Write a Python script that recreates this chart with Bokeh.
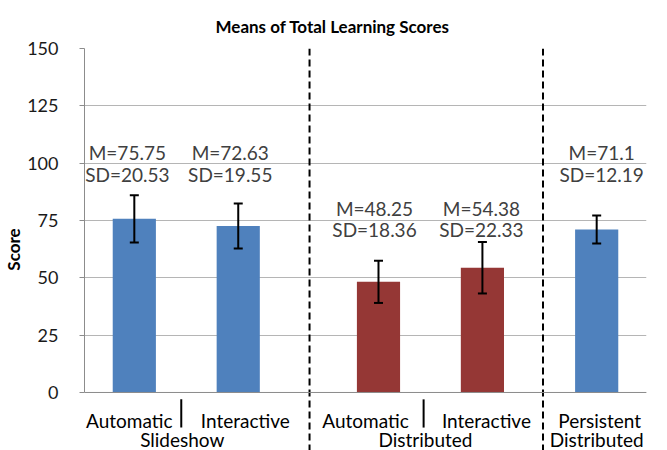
from bokeh.plotting import figure
from bokeh.models import (FactorRange, ColumnDataSource, FixedTicker, Whisker, TeeHead,
                          Range1d, Span, Label)
from bokeh.core.properties import value
from bokeh.embed import file_html
from bokeh.resources import INLINE

# ---------------- data ----------------
title_text = "Means of Total Learning Scores"
y_label = "Score"
top_groups = ["Standard", "Standard", "Standard", "Standard", "Persistent"]
groups = ["Slideshow", "Slideshow", "Distributed", "Distributed", "Distributed"]
conditions = ["Automatic", "Interactive", "Automatic", "Interactive", "Persistent"]
means = [75.75, 72.63, 48.25, 54.38, 71.1]
sds = [20.53, 19.55, 18.36, 22.33, 12.19]
err_half = [10.3, 9.8, 9.2, 11.2, 6.1]      # error-bar half lengths as drawn
group_labels = ["Slideshow", "Distributed", "Distributed"]
y_ticks = [0, 25, 50, 75, 100, 125, 150]

# ---------------- style / layout ----------------
BLUE, RED = "#4F81BD", "#953735"
bar_colors = [BLUE, BLUE, RED, RED, BLUE]
FONT = "Lato"
Y_MAX = 150
Y_MIN = -25.3                     # room under the baseline for category labels
FP, SP, GP = 0.306, 0.7625, 0.436  # factor / subgroup / group padding
m_label_y = [104.7, 104.7, 80.1, 80.1, 104.7]
sd_label_y = [95.1, 95.1, 70.9, 70.9, 95.1]
label_dx = [-7, -8, -4, -1, 5]
inner_dx = [-5, 7, -13, 4, 3]
outer_dx = [-4, -5, 0]
INNER_Y = -12.2                   # baseline of inner category labels (data units)
OUTER_Y = -20.6                   # baseline of group labels (data units)

factors = list(zip(top_groups, groups, conditions))
xr = FactorRange(factors=factors, factor_padding=FP, subgroup_padding=SP,
                 group_padding=GP, range_padding=0.126, range_padding_units="absolute")


def factor_centers(facs):
    """Positions of the factors on the FactorRange's internal (synthetic) axis."""
    out, cur, prev = [], 0.0, None
    for f in facs:
        if prev is not None:
            cur += GP if f[0] != prev[0] else (SP if f[1] != prev[1] else FP)
        out.append(cur + 0.5)
        cur += 1.0
        prev = f
    return out


centers = factor_centers(factors)
group_centers = []
for key in dict.fromkeys((a, b) for a, b, _ in factors):
    cs = [c for c, f in zip(centers, factors) if (f[0], f[1]) == key]
    group_centers.append(sum(cs) / len(cs))

p = figure(width=667, height=450, x_range=xr, y_range=Range1d(Y_MIN, Y_MAX),
           output_backend="svg", toolbar_location=None, x_axis_location=None,
           min_border_left=81, min_border_right=21, min_border_top=48, min_border_bottom=0)
p.outline_line_color = None
p.background_fill_color = "white"
p.border_fill_color = "white"

p.title.text = title_text
p.title.text_font = FONT
p.title.text_font_style = "bold"
p.title.text_font_size = "17px"
p.title.align = "left"
p.title.offset = 131
p.title.standoff = 23
p.title.text_color = "black"

lower = [m - e for m, e in zip(means, err_half)]
upper = [m + e for m, e in zip(means, err_half)]
src = ColumnDataSource(dict(
    x=factors, mean=means, color=bar_colors, lower=lower, upper=upper,
    m_text=[f"M={m:g}" for m in means], sd_text=[f"SD={s:g}" for s in sds],
    m_y=m_label_y, sd_y=sd_label_y, dx=label_dx))

p.vbar(x="x", top="mean", width=0.5425, fill_color="color", line_color=None, source=src)

w = Whisker(base="x", upper="upper", lower="lower", source=src, level="annotation",
            line_color="black", line_width=2,
            upper_head=TeeHead(size=9, line_width=2, line_color="black"),
            lower_head=TeeHead(size=9, line_width=2, line_color="black"))
p.add_layout(w)

for ycol, tcol in (("m_y", "m_text"), ("sd_y", "sd_text")):
    p.text(x="x", y=ycol, text=tcol, x_offset="dx", source=src,
           text_font=value(FONT), text_font_size="19px", text_color="#404040",
           text_align="center", text_baseline="middle")

# category labels (inner level) and group labels (outer level)
label_style = dict(text_font=FONT, text_font_size="19px", text_color="black",
                   text_align="center", text_baseline="alphabetic")
for c, t, dx in zip(centers, conditions, inner_dx):
    p.add_layout(Label(x=c, y=INNER_Y, text=t, x_offset=dx, **label_style))
for c, t, dx in zip(group_centers, group_labels, outer_dx):
    p.add_layout(Label(x=c, y=OUTER_Y, text=t, x_offset=dx, **label_style))

# dashed separators between the three groups
dash_src = ColumnDataSource(dict(x=[("Standard", "Slideshow", "Interactive", 0.896),
                                    ("Standard", "Distributed", "Interactive", 0.761)]))
p.segment(x0="x", y0=Y_MAX, x1="x", y1=Y_MIN, source=dash_src,
          line_color="black", line_width=2, line_dash="7 4")

# short solid separators between the inner labels
solid_src = ColumnDataSource(dict(x=[("Standard", "Slideshow", "Automatic", 0.59),
                                     ("Standard", "Distributed", "Automatic", 0.567)]))
p.segment(x0="x", y0=-3.0, x1="x", y1=-15.3, source=solid_src,
          line_color="black", line_width=2)

# axes and grid
yaxis = p.yaxis[0]
yaxis.ticker = FixedTicker(ticks=y_ticks)
yaxis.bounds = (0, Y_MAX)
yaxis.axis_label = y_label
yaxis.axis_label_text_font = FONT
yaxis.axis_label_text_font_style = "bold"
yaxis.axis_label_text_font_size = "17px"
yaxis.axis_label_text_color = "black"
yaxis.major_label_text_font = FONT
yaxis.major_label_text_font_size = "18px"
yaxis.major_label_text_color = "#1a1a1a"
yaxis.major_tick_out = 5
yaxis.major_tick_in = 0
yaxis.minor_tick_out = 0
yaxis.minor_tick_in = 0
yaxis.axis_line_color = "#8C8C8C"
yaxis.major_tick_line_color = "#8C8C8C"
yaxis.major_label_standoff = 21
yaxis.axis_label_standoff = 0

p.xgrid.visible = False
p.ygrid.ticker = FixedTicker(ticks=y_ticks)
p.ygrid.grid_line_color = "#B5B5B5"
p.add_layout(Span(location=0, dimension="width", line_color="#8C8C8C", line_width=1))

open("out.html", "w").write(file_html(p, INLINE))
